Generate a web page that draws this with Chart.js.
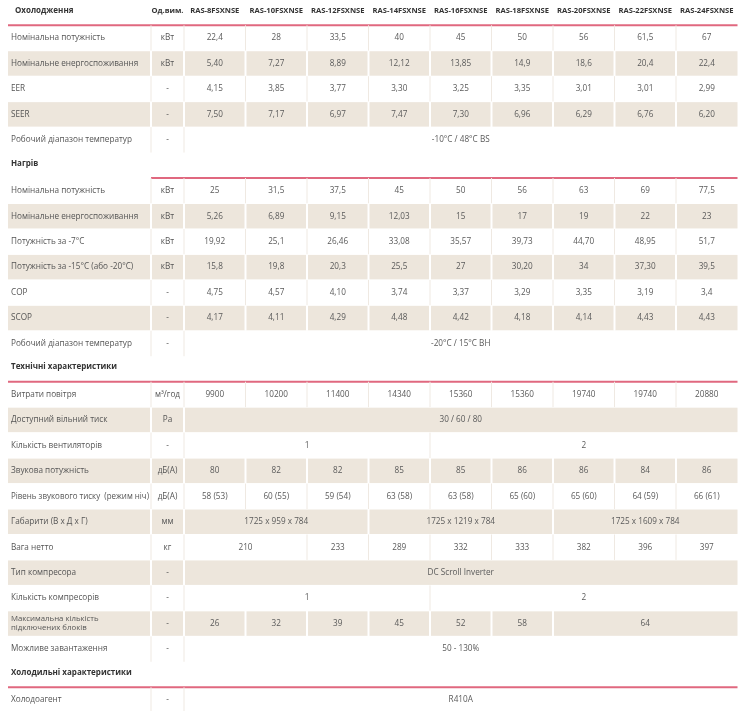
<!DOCTYPE html>
<html lang="uk">
<head>
<meta charset="UTF-8">
<title>RAS FSXNSE</title>
<script src="https://cdn.jsdelivr.net/npm/chart.js"></script>
<style>
  body { margin: 0; background: #fff; }
  #wrap { width: 751px; height: 711px; }
</style>
</head>
<body>
<div id="wrap"><canvas id="table" width="751" height="711"></canvas></div>
<script>
// table data: null means the cell is merged into the one on its left
const models = ['RAS-8FSXNSE', 'RAS-10FSXNSE', 'RAS-12FSXNSE', 'RAS-14FSXNSE', 'RAS-16FSXNSE',
                'RAS-18FSXNSE', 'RAS-20FSXNSE', 'RAS-22FSXNSE', 'RAS-24FSXNSE'];
const unitHeader = 'Од.вим.';
const sections = { 0: 'Охолодження', 6: 'Нагрів', 14: 'Технічні характеристики', 26: 'Холодильні характеристики' };
const rowLabels = [
  '', 'Номінальна потужність', 'Номінальне енергоспоживання', 'EER', 'SEER', 'Робочий діапазон температур',
  '', 'Номінальна потужність', 'Номінальне енергоспоживання', 'Потужність за -7°C', 'Потужність за -15°C (або -20°C)',
  'COP', 'SCOP', 'Робочий діапазон температур',
  '', 'Витрати повітря', 'Доступний вільний тиск', 'Кількість вентиляторів', 'Звукова потужність',
  'Рівень звукового тиску  (режим ніч)', 'Габарити (В х Д х Г)', 'Вага нетто', 'Тип компресора',
  'Кількість компресорів', 'Максимальна кількість|підключених блоків', 'Можливе завантаження',
  '', 'Холодоагент'
];
const units = ['', 'кВт', 'кВт', '-', '-', '-', '', 'кВт', 'кВт', 'кВт', 'кВт', '-', '-', '-',
               '', 'м³/год', 'Pa', '-', 'дБ(А)', 'дБ(А)', 'мм', 'кг', '-', '-', '-', '-', '', '-'];
const N = null;
const rowValues = [
  [],
  ['22,4', '28', '33,5', '40', '45', '50', '56', '61,5', '67'],
  ['5,40', '7,27', '8,89', '12,12', '13,85', '14,9', '18,6', '20,4', '22,4'],
  ['4,15', '3,85', '3,77', '3,30', '3,25', '3,35', '3,01', '3,01', '2,99'],
  ['7,50', '7,17', '6,97', '7,47', '7,30', '6,96', '6,29', '6,76', '6,20'],
  ['-10°C / 48°C BS', N, N, N, N, N, N, N, N],
  [],
  ['25', '31,5', '37,5', '45', '50', '56', '63', '69', '77,5'],
  ['5,26', '6,89', '9,15', '12,03', '15', '17', '19', '22', '23'],
  ['19,92', '25,1', '26,46', '33,08', '35,57', '39,73', '44,70', '48,95', '51,7'],
  ['15,8', '19,8', '20,3', '25,5', '27', '30,20', '34', '37,30', '39,5'],
  ['4,75', '4,57', '4,10', '3,74', '3,37', '3,29', '3,35', '3,19', '3,4'],
  ['4,17', '4,11', '4,29', '4,48', '4,42', '4,18', '4,14', '4,43', '4,43'],
  ['-20°C / 15°C BH', N, N, N, N, N, N, N, N],
  [],
  ['9900', '10200', '11400', '14340', '15360', '15360', '19740', '19740', '20880'],
  ['30 / 60 / 80', N, N, N, N, N, N, N, N],
  ['1', N, N, N, '2', N, N, N, N],
  ['80', '82', '82', '85', '85', '86', '86', '84', '86'],
  ['58 (53)', '60 (55)', '59 (54)', '63 (58)', '63 (58)', '65 (60)', '65 (60)', '64 (59)', '66 (61)'],
  ['1725 x 959 x 784', N, N, '1725 x 1219 x 784', N, N, '1725 x 1609 x 784', N, N],
  ['210', N, '233', '289', '332', '333', '382', '396', '397'],
  ['DC Scroll Inverter', N, N, N, N, N, N, N, N],
  ['1', N, N, N, '2', N, N, N, N],
  ['26', '32', '39', '45', '52', '58', '64', N, N],
  ['50 - 130%', N, N, N, N, N, N, N, N],
  [],
  ['R410A', N, N, N, N, N, N, N, N]
];
const shadedRows = [2, 4, 8, 10, 12, 16, 18, 20, 22, 24];

// layout (x in pixels on the x scale, y in row units on the y scale)
const tableLeft = 8, labelRight = 151, unitRight = 184, colWidth = 61.5, tableRight = unitRight + 9 * colWidth;
const colEdge = i => unitRight + i * colWidth;
const FONT = '"Open Sans", "Noto Sans", sans-serif';

const tablePlugin = {
  id: 'tablePlugin',
  afterDraw(chart) {
    const ctx = chart.ctx, xs = chart.scales.x, ys = chart.scales.y;
    const X = v => xs.getPixelForValue(v);
    const rowTop = r => ys.getPixelForValue(r - 0.5);
    const rowBot = r => ys.getPixelForValue(r + 0.5);
    const rowMid = r => ys.getPixelForValue(r);
    ctx.save();
    ctx.textBaseline = 'middle';

    rowLabels.forEach((label, r) => {
      const top = rowTop(r), bot = rowBot(r), mid = rowMid(r);
      const isSection = sections[r] !== undefined;
      const shaded = shadedRows.includes(r);
      if (shaded) {
        ctx.fillStyle = '#ede6dc';
        ctx.fillRect(X(tableLeft), top + 0.5, X(tableRight) - X(tableLeft), bot - top - 1);
      }
      if (isSection) {
        ctx.font = 'bold 8px ' + FONT;
        ctx.fillStyle = '#333';
        ctx.textAlign = 'left';
        ctx.fillText(sections[r], X(r === 0 ? 15 : 11), mid - 2);
        ctx.strokeStyle = '#e0687f';
        ctx.lineWidth = 2;
        ctx.beginPath();
        ctx.moveTo(X(r === 6 ? labelRight : tableLeft), bot);
        ctx.lineTo(X(tableRight), bot);
        ctx.stroke();
        if (r === 0) {
          ctx.font = 'bold 7.6px ' + FONT;
          ctx.textAlign = 'center';
          ctx.fillText(unitHeader, X((labelRight + unitRight) / 2), mid - 2);
          models.forEach((m, c) => ctx.fillText(m, X(colEdge(c) + colWidth / 2), mid - 2));
        }
        return;
      }
      // separators: after label, after unit, and between cells that are not merged
      const vals = rowValues[r];
      const edges = [labelRight, unitRight];
      for (let c = 1; c < 9; c++) if (vals[c] !== null) edges.push(colEdge(c));
      ctx.strokeStyle = shaded ? '#ffffff' : '#efe9e2';
      ctx.lineWidth = shaded ? 2 : 1;
      edges.forEach(e => {
        ctx.beginPath();
        ctx.moveTo(X(e), top);
        ctx.lineTo(X(e), bot);
        ctx.stroke();
      });
      // label
      ctx.fillStyle = '#555';
      ctx.textAlign = 'left';
      const parts = label.split('|');
      if (parts.length > 1) {
        ctx.font = '7.8px ' + FONT;
        ctx.fillText(parts[0], X(11), mid - 5);
        ctx.fillText(parts[1], X(11), mid + 4);
      } else {
        ctx.font = '8.2px ' + FONT;
        ctx.fillText(label, X(11), mid, labelRight - 13);
      }
      ctx.textAlign = 'center';
      ctx.font = '8.2px ' + FONT;
      ctx.fillText(units[r], X((labelRight + unitRight) / 2), mid, unitRight - labelRight - 3);
      // values
      ctx.fillStyle = '#5a5a5a';
      for (let c = 0; c < 9; c++) {
        if (vals[c] === null) continue;
        let end = c + 1;
        while (end < 9 && vals[end] === null) end++;
        ctx.fillText(vals[c], X((colEdge(c) + colEdge(end)) / 2), mid);
      }
    });
    ctx.restore();
  }
};

new Chart(document.getElementById('table').getContext('2d'), {
  type: 'scatter',
  data: { datasets: [{ data: [], pointRadius: 0 }] },
  options: {
    responsive: false,
    animation: false,
    layout: { padding: 0 },
    plugins: { legend: { display: false }, tooltip: { enabled: false } },
    scales: {
      x: { type: 'linear', min: 0, max: 751, display: false },
      y: { type: 'linear', min: -0.4925, max: 27.433, reverse: true, display: false }
    }
  },
  plugins: [tablePlugin]
});
</script>
</body>
</html>
